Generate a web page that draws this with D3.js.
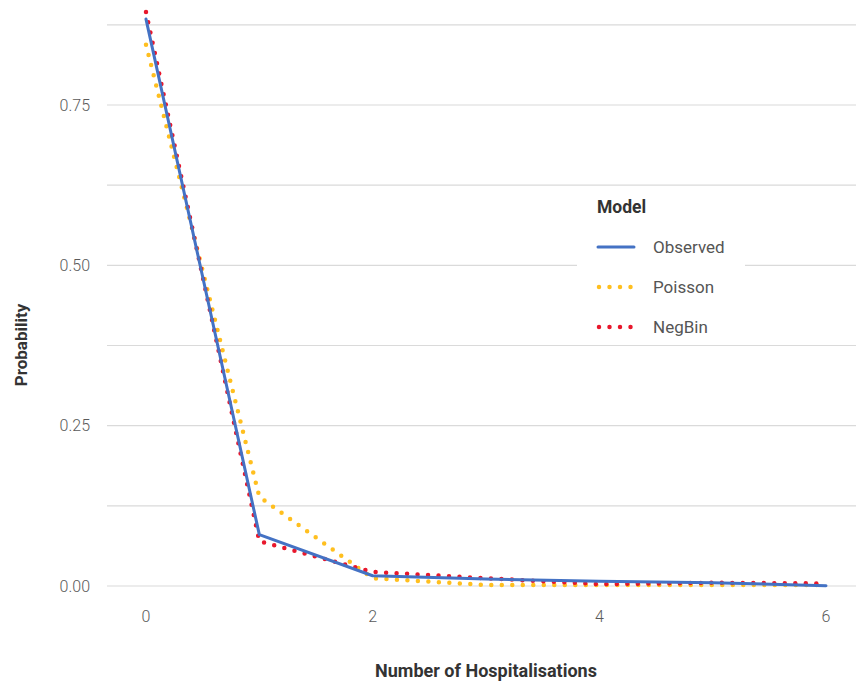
<!DOCTYPE html>
<html>
<head>
<meta charset="utf-8">
<script src="https://d3js.org/d3.v7.min.js"></script>
<style>
  body { margin: 0; background: #fff; }
  text { font-family: Roboto, "Noto Sans", sans-serif; }
  .tick-label { font-size: 16px; font-weight: 300; fill: #5a5a5a; }
  .axis-title { font-weight: 700; fill: #333; }
  .legend-label { font-size: 17px; font-weight: 400; fill: #555; }
</style>
</head>
<body>
<script>
// counts 0..6
var counts = [0, 1, 2, 3, 4, 5, 6];

var observed = [0.884, 0.080, 0.016, 0.011, 0.0075, 0.005, 0.0005];
var poisson  = [0.844, 0.139, 0.012, 0.0015, 0.0015, 0.0015, 0.0015];
var negbin   = [0.895, 0.070, 0.022, 0.012, 0.003, 0.005, 0.004];

var models = ["Observed", "Poisson", "NegBin"];
var colours = ["#4472c4", "#ffbf1f", "#e8172c"];

var yTicks = [0, 0.25, 0.5, 0.75];
var yMinor = [0.125, 0.375, 0.625, 0.875];
var xTicks = [0, 2, 4, 6];

var W = 856, H = 684;
var svg = d3.select("body").append("svg")
    .attr("width", W).attr("height", H);

var x = d3.scaleLinear().domain([0, 6]).range([146, 826]);
var y = d3.scaleLinear().domain([0, 0.75]).range([586, 105]);

var panelLeft = 107, panelRight = W;

// grid
svg.selectAll(".grid")
  .data(yMinor.concat(yTicks))
  .enter().append("line")
    .attr("x1", panelLeft).attr("x2", panelRight)
    .attr("y1", d => y(d)).attr("y2", d => y(d))
    .attr("stroke", "#dadada").attr("stroke-width", 1.2);

// y labels
svg.selectAll(".ylab")
  .data(yTicks)
  .enter().append("text")
    .attr("class", "tick-label")
    .attr("x", 90).attr("y", d => y(d))
    .attr("dy", "0.35em")
    .attr("text-anchor", "end")
    .text(d3.format(".2f"));

// x labels
svg.selectAll(".xlab")
  .data(xTicks)
  .enter().append("text")
    .attr("class", "tick-label")
    .attr("x", d => x(d)).attr("y", 616)
    .attr("dy", "0.35em")
    .attr("text-anchor", "middle")
    .text(d => d);

svg.append("text")
    .attr("class", "axis-title")
    .attr("font-size", "18px")
    .attr("x", 486).attr("y", 677)
    .attr("text-anchor", "middle")
    .text("Number of Hospitalisations");

svg.append("text")
    .attr("class", "axis-title")
    .attr("font-size", "17px")
    .attr("transform", "translate(27,345) rotate(-90)")
    .attr("text-anchor", "middle")
    .text("Probability");

var line = d3.line()
    .x((d, i) => x(counts[i]))
    .y(d => y(d));

function style(sel, k) {
  sel.attr("fill", "none")
     .attr("stroke", colours[k])
     .attr("stroke-linecap", "round")
     .attr("stroke-linejoin", "round");
  if (k === 0) sel.attr("stroke-width", 3);
  else sel.attr("stroke-width", 4.5).attr("stroke-dasharray", "0 10.5");
}

// dotted model fits under the observed line
svg.append("path").datum(poisson).attr("d", line).call(style, 1);
svg.append("path").datum(negbin).attr("d", line).call(style, 2);
svg.append("path").datum(observed).attr("d", line).call(style, 0);

// legend
var lg = svg.append("g");
lg.append("rect")
    .attr("x", 577).attr("y", 187)
    .attr("width", 168).attr("height", 157)
    .attr("fill", "#fff");
lg.append("text")
    .attr("x", 597).attr("y", 207)
    .attr("dy", "0.35em")
    .attr("font-size", "17.5px").attr("font-weight", 700).attr("fill", "#333")
    .text("Model");

var keys = lg.selectAll(".key")
  .data(models)
  .enter().append("g")
    .attr("transform", (d, i) => "translate(0," + (247 + i * 40) + ")");

keys.each(function(d, i) {
  var g = d3.select(this);
  g.append("line")
    .attr("x1", i === 0 ? 598 : 599).attr("x2", i === 0 ? 634 : 635)
    .attr("y1", 0).attr("y2", 0)
    .call(style, i);
  g.append("text")
    .attr("class", "legend-label")
    .attr("x", 653).attr("dy", "0.35em")
    .text(d);
});
</script>
</body>
</html>
